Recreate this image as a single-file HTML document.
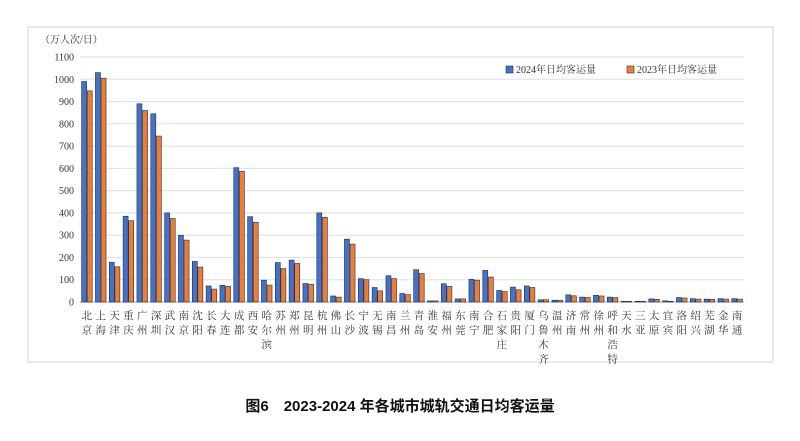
<!DOCTYPE html>
<html><head><meta charset="utf-8"><style>
body{margin:0;background:#fff;width:800px;height:436px;overflow:hidden;font-family:"Liberation Serif","Noto Serif CJK SC",serif;}
svg text{font-family:"Liberation Serif","Noto Serif CJK SC",serif;}
</style></head><body>
<svg id="chart" width="800" height="436" xmlns="http://www.w3.org/2000/svg">
<rect x="28" y="27" width="745" height="335" fill="#fff" stroke="#e2e2e2" stroke-width="1.5"/>
<text x="40" y="43" font-size="10" fill="#333">（万人次/日）</text>
<g id="grid"></g><g id="bars"></g><g id="labels"></g>
<g>
<rect x="506" y="66" width="7" height="7" fill="#4472C4" stroke="#1f2d55" stroke-width="0.6"/>
<text x="516" y="73" font-size="10" fill="#333">2024年日均客运量</text>
<rect x="627" y="66" width="7" height="7" fill="#ED7D31" stroke="#1f2d55" stroke-width="0.6"/>
<text x="637" y="73" font-size="10" fill="#333">2023年日均客运量</text>
</g>
<text x="400" y="411" font-size="15" font-weight="bold" text-anchor="middle" fill="#111" style='font-family:"Liberation Sans","Noto Sans CJK SC",sans-serif'>图6　2023-2024 年各城市城轨交通日均客运量</text>
</svg>
<script>
const cities=["北京","上海","天津","重庆","广州","深圳","武汉","南京","沈阳","长春","大连","成都","西安","哈尔滨","苏州","郑州","昆明","杭州","佛山","长沙","宁波","无锡","南昌","兰州","青岛","淮安","福州","东莞","南宁","合肥","石家庄","贵阳","厦门","乌鲁木齐","温州","济南","常州","徐州","呼和浩特","天水","三亚","太原","宜宾","洛阳","绍兴","芜湖","金华","南通"];
const v2024=[990,1030,178,385,890,845,400,300,182,72,75,603,383,98,177,188,83,400,27,282,105,65,118,38,145,5,82,14,102,142,52,67,72,10,8,32,22,30,22,3,3,14,5,20,15,13,15,15];
const v2023=[948,1005,158,365,860,745,375,278,157,58,70,587,358,76,150,173,80,380,22,260,100,50,105,33,128,5,70,14,98,112,47,55,65,10,8,28,20,27,20,3,3,12,3,18,13,12,13,13];
const yTicks=[0,100,200,300,400,500,600,700,800,900,1000,1100];
const NS="http://www.w3.org/2000/svg";
const x0=80,x1=744,y0=302,yTop=57,yMax=1100;
const yS=v=>y0-(v/yMax)*(y0-yTop);
const step=(x1-x0)/cities.length;
const xC=i=>x0+step*(i+0.5);
function mk(tag,attrs,parent){const e=document.createElementNS(NS,tag);for(const k in attrs)e.setAttribute(k,attrs[k]);parent.appendChild(e);return e;}
const grid=document.getElementById('grid'),bars=document.getElementById('bars'),labels=document.getElementById('labels');
yTicks.forEach(t=>{
 const l=mk('line',{x1:x0,x2:x1,y1:yS(t),y2:yS(t),stroke:t===0?'#bbb':'#e4e4e4','stroke-width':1.2},grid);
 
 
 const tx=mk('text',{x:x0-6,y:yS(t)+3.5,'font-size':10,'text-anchor':'end',fill:'#333'},grid);
 tx.textContent=t;
 
 
});
const bw=5;
cities.forEach((c,i)=>{
 const cx=xC(i);
 const b1=mk('rect',{x:cx-bw-0.3,y:yS(v2024[i]),width:bw,height:y0-yS(v2024[i]),fill:'#4472C4',stroke:'#1f2d55','stroke-width':0.6},bars);
 
 
 const b2=mk('rect',{x:cx+0.3,y:yS(v2023[i]),width:bw,height:y0-yS(v2023[i]),fill:'#ED7D31',stroke:'#1f2d55','stroke-width':0.6},bars);
 
 
 const g=mk('text',{'font-size':10.5,'text-anchor':'middle',fill:'#333'},labels);
 
 
 [...c].forEach((ch,k)=>{const t=mk('tspan',{x:cx,y:319+k*14.5},g);t.textContent=ch;});
});
</script>
</body></html>
